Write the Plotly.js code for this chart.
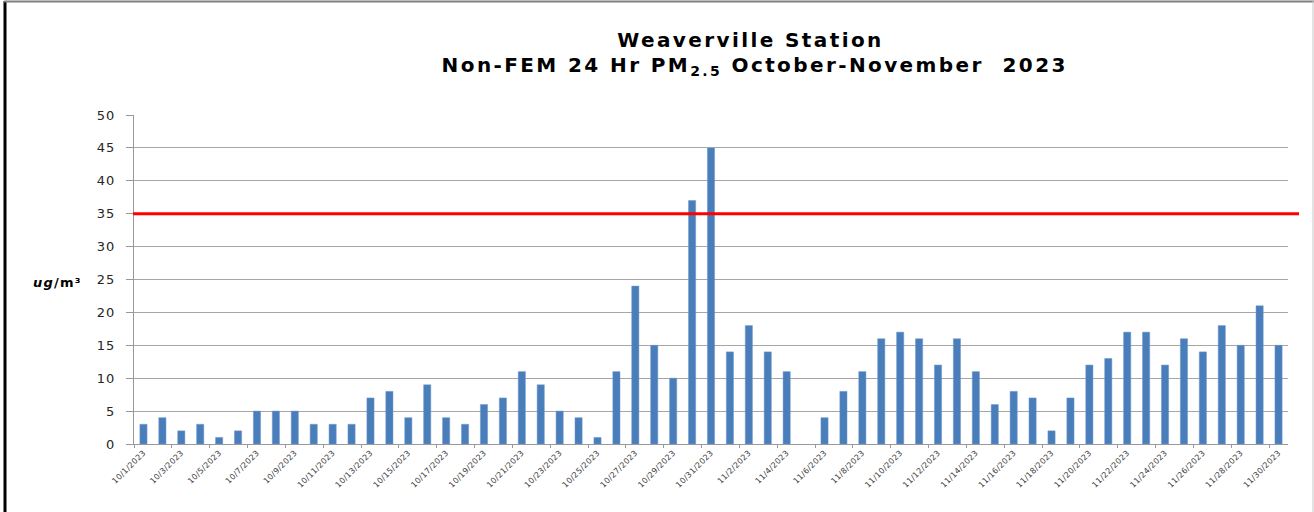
<!DOCTYPE html>
<html>
<head>
<meta charset="utf-8">
<script src="https://cdn.plot.ly/plotly-3.0.1.min.js"></script>
<style>
  html, body { margin: 0; padding: 0; background: #ffffff; }
  #chart { width: 1314px; height: 512px; }
  g.annotation[data-index="0"] text, g.annotation[data-index="1"] text { letter-spacing: 2.4px; }
  g.annotation[data-index="2"] text { letter-spacing: 1.2px; }
  g.ytick text { letter-spacing: 1px; }
  g.xtick text { letter-spacing: 0.3px; }
</style>
</head>
<body>
<div id="chart"></div>
<script>
const dates = [
  "10/1/2023","10/2/2023","10/3/2023","10/4/2023","10/5/2023","10/6/2023","10/7/2023","10/8/2023",
  "10/9/2023","10/10/2023","10/11/2023","10/12/2023","10/13/2023","10/14/2023","10/15/2023","10/16/2023",
  "10/17/2023","10/18/2023","10/19/2023","10/20/2023","10/21/2023","10/22/2023","10/23/2023","10/24/2023",
  "10/25/2023","10/26/2023","10/27/2023","10/28/2023","10/29/2023","10/30/2023","10/31/2023",
  "11/1/2023","11/2/2023","11/3/2023","11/4/2023","11/5/2023","11/6/2023","11/7/2023","11/8/2023",
  "11/9/2023","11/10/2023","11/11/2023","11/12/2023","11/13/2023","11/14/2023","11/15/2023","11/16/2023",
  "11/17/2023","11/18/2023","11/19/2023","11/20/2023","11/21/2023","11/22/2023","11/23/2023","11/24/2023",
  "11/25/2023","11/26/2023","11/27/2023","11/28/2023","11/29/2023","11/30/2023"
];
const octoberValues = [3,4,2,3,1,2,5,5,5,3,3,3,7,8,4,9,4,3,6,7,11,9,5,4,1,11,24,15,10,37,45];
const novemberValues = [14,18,14,11,null,4,8,11,16,17,16,12,16,11,6,8,7,2,7,12,13,17,17,12,16,14,18,15,21,15];
const pm25 = octoberValues.concat(novemberValues);
const standard = 35;
const yTicks = [0,5,10,15,20,25,30,35,40,45,50];

const titleLine1 = "Weaverville Station";
const titleLine2 = "Non-FEM 24 Hr PM<sub>2.5</sub> October-November\u00a0 2023";
const yLabel = "<i>ug</i>/m³";

// plot-area geometry in px for decorations
const W = 1314, H = 512, L = 134, R = 26, T = 115, B = 68;
const pw = W - L - R, ph = H - T - B;
const px = v => (v - L) / pw;
const py = v => (H - B - v) / ph;

const trace = {
  type: 'bar',
  x: dates,
  y: pm25,
  marker: { color: '#4A7EBB', line: { color: '#6E98CC', width: 0.5 } },
  hoverinfo: 'x+y'
};

const layout = {
  width: W, height: H,
  margin: { l: L, r: R, t: T, b: B, pad: 0 },
  paper_bgcolor: '#ffffff',
  plot_bgcolor: '#ffffff',
  showlegend: false,
  bargap: 0.62,
  font: { family: 'DejaVu Sans', color: '#333333' },
  xaxis: {
    type: 'category',
    categoryorder: 'array',
    categoryarray: dates,
    tickmode: 'linear',
    tick0: 0,
    dtick: 2,
    tickson: 'boundaries',
    ticks: 'outside',
    ticklen: 3,
    tickcolor: '#999999',
    tickangle: -45,
    tickfont: { family: 'DejaVu Sans', size: 8, color: '#404040' },
    showgrid: false,
    showline: true,
    linecolor: '#999999',
    linewidth: 1,
    fixedrange: true
  },
  yaxis: {
    range: [0, 50],
    tickmode: 'array',
    tickvals: yTicks,
    ticktext: yTicks.map(String),
    ticks: 'outside',
    ticklen: 7,
    tickcolor: '#999999',
    ticklabelstandoff: 8,
    tickfont: { family: 'DejaVu Sans', size: 13, color: '#262626' },
    showgrid: true,
    gridcolor: '#a6a6a6',
    gridwidth: 1,
    zeroline: false,
    showline: true,
    linecolor: '#999999',
    linewidth: 1,
    fixedrange: true
  },
  annotations: [
    { text: '<b>' + titleLine1 + '</b>', xref: 'paper', yref: 'paper', x: px(750), y: py(40),
      xanchor: 'center', yanchor: 'middle', showarrow: false,
      font: { family: 'DejaVu Sans', size: 20, color: '#000000' } },
    { text: '<b>' + titleLine2 + '</b>', xref: 'paper', yref: 'paper', x: px(754), y: py(66),
      xanchor: 'center', yanchor: 'middle', showarrow: false,
      font: { family: 'DejaVu Sans', size: 20, color: '#000000' } },
    { text: '<b>' + yLabel + '</b>', xref: 'paper', yref: 'paper', x: px(57), y: py(282),
      xanchor: 'center', yanchor: 'middle', showarrow: false,
      font: { family: 'DejaVu Sans', size: 13, color: '#000000' } }
  ],
  shapes: [
    { type: 'line', xref: 'paper', yref: 'y', x0: px(133), x1: px(1299), y0: standard, y1: standard,
      line: { color: '#FF0000', width: 3 } },
    { type: 'line', xref: 'paper', yref: 'paper', x0: px(5), x1: px(5), y0: py(1), y1: py(512),
      line: { color: '#000000', width: 3 } },
    { type: 'line', xref: 'paper', yref: 'paper', x0: px(4), x1: px(1314), y0: py(1.5), y1: py(1.5),
      line: { color: '#808080', width: 2 } },
    { type: 'line', xref: 'paper', yref: 'paper', x0: px(1313), x1: px(1313), y0: py(1), y1: py(512),
      line: { color: '#c8c8c8', width: 1 } }
  ]
};

Plotly.newPlot('chart', [trace], layout, { displayModeBar: false, staticPlot: true });
</script>
</body>
</html>
